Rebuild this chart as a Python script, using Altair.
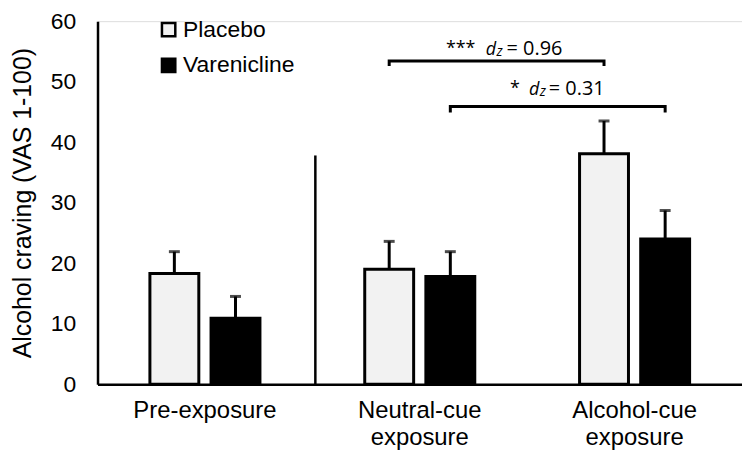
import altair as alt
import pandas as pd

groups = ["Pre-exposure", "Neutral-cue exposure", "Alcohol-cue exposure"]
drugs = ["Placebo", "Varenicline"]
placebo_mean = [18.3, 19.0, 38.1]
placebo_err_top = [21.9, 23.6, 43.5]
varen_mean = [10.9, 17.8, 24.0]
varen_err_top = [14.5, 21.9, 28.7]

separator_top = 37.8

bracket_drug = ["Placebo", "Varenicline"]
bracket_y = [53.4, 45.9]
bracket_tick_end = [52.6, 44.9]
label_y = [54.4, 47.8]
label_stars = ["***", "*"]
label_values = ["= 0.96", "= 0.31"]

rows = []
for i, g in enumerate(groups):
    rows.append(dict(group=g, drug="Placebo", mean=placebo_mean[i], top=placebo_err_top[i]))
    rows.append(dict(group=g, drug="Varenicline", mean=varen_mean[i], top=varen_err_top[i]))
df = pd.DataFrame(rows)

FONT = "Liberation Sans"
ANN_FONT = "Open Sans"

x_scale = alt.Scale(domain=groups, paddingInner=0, paddingOuter=0)
xo_scale = alt.Scale(domain=drugs, paddingInner=0.2, paddingOuter=0.857)
y_scale = alt.Scale(domain=[0, 60], nice=False, zero=True)

x_axis = alt.Axis(
    title=None, ticks=False, labelExpr="split(datum.label, ' ')",
    labelFont=FONT, labelFontSize=24, labelLineHeight=27, labelPadding=15,
    labelColor="black", domainColor="black", domainWidth=2.5, labelAngle=0,
)
y_axis = alt.Axis(
    title="Alcohol craving (VAS 1-100)", titleFont=FONT, titleFontSize=25,
    titleFontWeight="normal", titleColor="black", titlePadding=15,
    ticks=False, grid=False, values=[0, 10, 20, 30, 40, 50, 60],
    labelFont=FONT, labelFontSize=23, labelColor="black", labelPadding=22,
    domainColor="black", domainWidth=2.5,
)

def X(field="group"):
    return alt.X(f"{field}:N", scale=x_scale, sort=groups, axis=x_axis)

def XO():
    return alt.XOffset("drug:N", scale=xo_scale, sort=drugs)

def Y(field):
    return alt.Y(f"{field}:Q", scale=y_scale, axis=y_axis)

bars = alt.Chart(df).mark_bar(stroke="black", strokeWidth=3).encode(
    x=X(), xOffset=XO(), y=Y("mean"),
    color=alt.Color(
        "drug:N", sort=drugs,
        scale=alt.Scale(domain=drugs, range=["#f2f2f2", "#000000"]),
        legend=alt.Legend(
            title=None, orient="none", legendX=60, legendY=-3,
            symbolType="square", symbolSize=180, symbolStrokeColor="black",
            symbolStrokeWidth=2.5, labelFont=FONT, labelFontSize=23,
            labelColor="black", labelOffset=3, rowPadding=11, padding=0,
        ),
    ),
)

err_line = alt.Chart(df).mark_rule(color="black", strokeWidth=3).encode(
    x=X(), xOffset=XO(), y=Y("mean"), y2="top:Q"
)
err_cap = alt.Chart(df).mark_tick(color="black", thickness=3, size=11).encode(
    x=X(), xOffset=XO(), y=Y("top")
)

sep_df = pd.DataFrame({"group": [groups[1]], "bottom": [0.0], "top": [separator_top]})
separator = alt.Chart(sep_df).mark_rule(color="black", strokeWidth=2.5).encode(
    x=alt.X("group:N", scale=x_scale, sort=groups, axis=x_axis, bandPosition=0.014),
    y=Y("bottom"), y2="top:Q",
)

# brackets drawn as 4-point paths: down-tick, across, down-tick
path_rows = []
for i in range(2):
    pts = [(groups[1], bracket_tick_end[i]), (groups[1], bracket_y[i]),
           (groups[2], bracket_y[i]), (groups[2], bracket_tick_end[i])]
    for k, (g, yv) in enumerate(pts):
        path_rows.append(dict(bracket=i, ord=k, group=g, drug=bracket_drug[i], y=yv))
path_df = pd.DataFrame(path_rows)
brackets = alt.Chart(path_df).mark_line(color="black", strokeWidth=3, strokeJoin="miter").encode(
    x=X(), xOffset=XO(), y=Y("y"), detail="bracket:N", order="ord:Q"
)

# annotation text pieces, per bracket: (stars dx, d dx, z dx, value dx)
piece_dx = [(57, 97, 108, 118), (60, 79, 90, 99)]
texts = []
for i in range(2):
    tdf = pd.DataFrame({
        "group": [groups[1]], "drug": [bracket_drug[i]], "y": [label_y[i]],
        "stars": [label_stars[i]], "d": ["d"], "z": ["z"], "val": [label_values[i]],
    })
    sdx, ddx, zdx, vdx = piece_dx[i]
    base = alt.Chart(tdf)
    texts.append(base.mark_text(align="left", baseline="alphabetic", dx=sdx, dy=-1,
                                font=ANN_FONT, fontSize=18, color="black").encode(
        x=X(), xOffset=XO(), y=Y("y"), text="stars:N"))
    texts.append(base.mark_text(align="left", baseline="alphabetic", dx=ddx,
                                font=ANN_FONT, fontSize=18, fontStyle="italic", color="black").encode(
        x=X(), xOffset=XO(), y=Y("y"), text="d:N"))
    texts.append(base.mark_text(align="left", baseline="alphabetic", dx=zdx, dy=1,
                                font=ANN_FONT, fontSize=14, fontStyle="italic", color="black").encode(
        x=X(), xOffset=XO(), y=Y("y"), text="z:N"))
    texts.append(base.mark_text(align="left", baseline="alphabetic", dx=vdx,
                                font=ANN_FONT, fontSize=20, color="black").encode(
        x=X(), xOffset=XO(), y=Y("y"), text="val:N"))

chart = alt.layer(
    bars, err_line, err_cap, separator, brackets, *texts
).properties(
    width=648, height=365,
    padding={"left": 90, "top": 12, "right": 0, "bottom": 70},
    autosize=alt.AutoSizeParams(type="none"),
).configure_view(stroke=None).configure(background="white")

chart.save("out.html", embed_options={"renderer": "svg", "actions": False})
